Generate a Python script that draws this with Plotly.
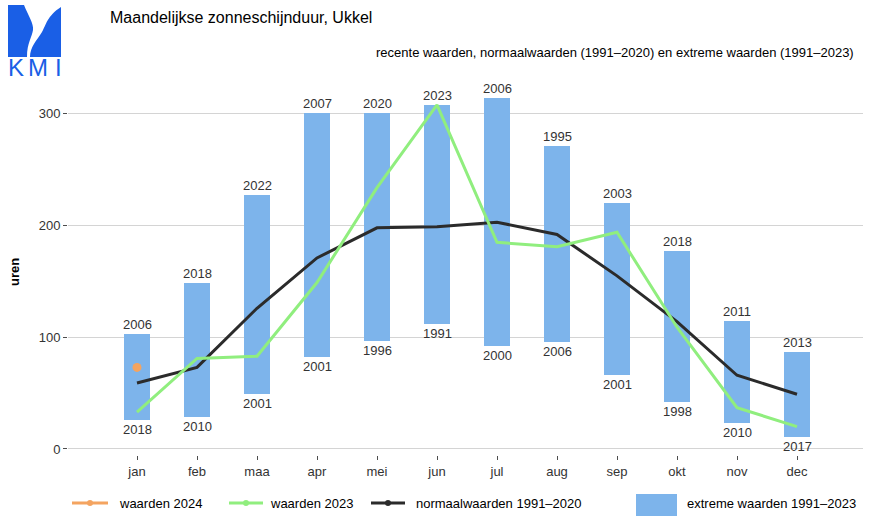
import plotly.graph_objects as go

months = ["jan", "feb", "maa", "apr", "mei", "jun", "jul", "aug", "sep", "okt", "nov", "dec"]
extreme_max = [103, 149, 227, 301, 301, 308, 314, 271, 220, 177, 115, 87]
extreme_min = [26, 29, 49, 82, 97, 112, 92, 96, 66, 42, 23, 11]
year_max = ["2006", "2018", "2022", "2007", "2020", "2023", "2006", "1995", "2003", "2018", "2011", "2013"]
year_min = ["2018", "2010", "2001", "2001", "1996", "1991", "2000", "2006", "2001", "1998", "2010", "2017"]
normal_1991_2020 = [59, 73, 126, 171, 198, 199, 203, 192, 155, 114, 66, 49]
values_2023 = [33, 81, 83, 149, 234, 308, 185, 181, 194, 109, 37, 20]
values_2024 = [73]

FONT = "Liberation Sans, Arial, sans-serif"
C_BAR = "#7db4eb"
C_GREEN = "#90ee7e"
C_BLACK = "#2b2b2b"
C_ORANGE = "#f4a460"
C_TEXT = "#4d4d4d"
C_LOGO = "#1a5fe6"

W, H = 873, 517
L, R, T, B = 68, 863, 92, 455


def px(x):
    return (x - L) / (R - L)


def py(y):
    return (B - y) / (B - T)


xs = list(range(len(months)))
fig = go.Figure()

fig.add_trace(go.Bar(
    x=xs, y=[a - b for a, b in zip(extreme_max, extreme_min)], base=extreme_min,
    width=0.42, marker=dict(color=C_BAR, line=dict(width=0)), showlegend=False,
    hoverinfo="skip"))

fig.add_trace(go.Scatter(
    x=xs, y=normal_1991_2020, mode="lines", line=dict(color=C_BLACK, width=3),
    showlegend=False))
fig.add_trace(go.Scatter(
    x=xs, y=values_2023, mode="lines", line=dict(color=C_GREEN, width=3),
    showlegend=False))
fig.add_trace(go.Scatter(
    x=xs[:len(values_2024)], y=values_2024, mode="markers",
    marker=dict(color=C_ORANGE, size=9, symbol="circle"), showlegend=False))

shapes = []
annotations = []

# year labels of the extremes
for i in xs:
    annotations.append(dict(text=year_max[i], x=i, y=extreme_max[i], xref="x", yref="y",
                            showarrow=False, xanchor="center", yanchor="bottom", yshift=0,
                            font=dict(family=FONT, size=13, color="#333333")))
    annotations.append(dict(text=year_min[i], x=i, y=extreme_min[i], xref="x", yref="y",
                            showarrow=False, xanchor="center", yanchor="top", yshift=0,
                            font=dict(family=FONT, size=13, color="#333333")))

# KMI logo
logo_left = ("M {} {} L {} {} C {} {} {} {} {} {} C {} {} {} {} {} {} L {} {} Z").format(
    px(8), py(5), px(24), py(5),
    px(28), py(15), px(34), py(24), px(33), py(30),
    px(32), py(37), px(27), py(43), px(27), py(57),
    px(8), py(57))
logo_right = ("M {} {} L {} {} L {} {} C {} {} {} {} {} {} C {} {} {} {} {} {} Z").format(
    px(61), py(7), px(61), py(57), px(30), py(57),
    px(30), py(47), px(37), py(40), px(42), py(32),
    px(46), py(25), px(47), py(16), px(61), py(7))
for p in (logo_left, logo_right):
    shapes.append(dict(type="path", path=p, xref="paper", yref="paper",
                       fillcolor=C_LOGO, line=dict(width=0), layer="above"))
for letter, lx in (("K", 15.5), ("M", 37.5), ("I", 58.5)):
    annotations.append(dict(text=letter, x=px(lx), y=py(67), xref="paper", yref="paper",
                            showarrow=False, xanchor="center", yanchor="middle",
                            font=dict(family=FONT, size=24, color=C_LOGO)))

# titles
annotations.append(dict(text="Maandelijkse zonneschijnduur, Ukkel", x=px(108), y=py(18),
                        xref="paper", yref="paper", showarrow=False, xanchor="left",
                        yanchor="middle", font=dict(family=FONT, size=16, color="#000000")))
annotations.append(dict(text="recente waarden, normaalwaarden (1991\u20132020) en extreme waarden (1991\u20132023)",
                        x=px(856), y=py(53), xref="paper", yref="paper", showarrow=False,
                        xanchor="right", yanchor="middle",
                        font=dict(family=FONT, size=13, color="#000000")))
annotations.append(dict(text="<b>uren</b>", x=px(14), y=py(272), xref="paper", yref="paper",
                        showarrow=False, textangle=-90, xanchor="center", yanchor="middle",
                        font=dict(family=FONT, size=13, color="#000000")))

# manual legend
leg_y = 503
for (x0, x1, col, label, tx) in [
    (72, 108, C_ORANGE, "waarden 2024", 117),
    (229, 263, C_GREEN, "waarden 2023", 268),
    (371, 405, C_BLACK, "normaalwaarden 1991\u20132020", 414),
]:
    shapes.append(dict(type="line", xref="paper", yref="paper", x0=px(x0), x1=px(x1),
                       y0=py(leg_y), y1=py(leg_y), line=dict(color=col, width=3)))
    cx = (x0 + x1) / 2
    shapes.append(dict(type="circle", xref="paper", yref="paper", x0=px(cx - 3), x1=px(cx + 3),
                       y0=py(leg_y - 3), y1=py(leg_y + 3), fillcolor=col, line=dict(width=0)))
    annotations.append(dict(text=label, x=px(tx), y=py(leg_y), xref="paper", yref="paper",
                            showarrow=False, xanchor="left", yanchor="middle",
                            font=dict(family=FONT, size=13, color="#000000")))
shapes.append(dict(type="rect", xref="paper", yref="paper", x0=px(636), x1=px(677),
                   y0=py(494), y1=py(516), fillcolor=C_BAR, line=dict(width=0)))
annotations.append(dict(text="extreme waarden 1991\u20132023", x=px(685), y=py(leg_y),
                        xref="paper", yref="paper", showarrow=False, xanchor="left",
                        yanchor="middle", font=dict(family=FONT, size=13, color="#000000")))

fig.update_layout(
    width=W, height=H,
    margin=dict(l=L, r=W - R, t=T, b=H - B),
    plot_bgcolor="white", paper_bgcolor="white",
    font=dict(family=FONT, size=13, color=C_TEXT),
    shapes=shapes, annotations=annotations,
    showlegend=False, bargap=0,
)
fig.update_xaxes(
    range=[-1.15, 12.1], tickvals=xs, ticktext=months, showgrid=False,
    zeroline=False, showline=False, ticks="outside", ticklen=4, tickcolor="#4d4d4d",
    tickwidth=1, tickfont=dict(family=FONT, size=13, color="#333333"))
fig.update_yaxes(
    range=[-5.4, 319.6], tickvals=[0, 100, 200, 300], showgrid=True,
    gridcolor="#d4d4d4", gridwidth=1.2, zeroline=False, showline=False,
    ticks="outside", ticklen=4, tickcolor="#4d4d4d", tickwidth=1,
    tickfont=dict(family=FONT, size=13, color="#333333"))

fig.write_html("out.html", config={"displayModeBar": False},
               post_script="document.body.style.margin='0';")
